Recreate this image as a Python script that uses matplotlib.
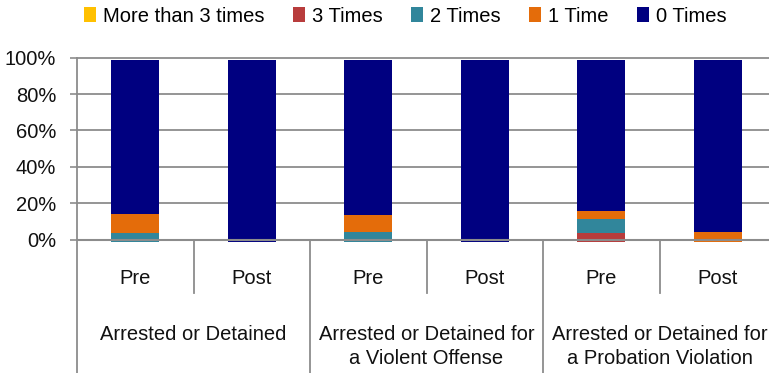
import numpy as np
import matplotlib
matplotlib.use('Agg')
import matplotlib.pyplot as plt
from matplotlib.transforms import blended_transform_factory

plt.rcParams['font.family'] = ['Liberation Sans', 'DejaVu Sans']

# survey results, share of youth by number of times (percent)
groups = ['Arrested or Detained',
          'Arrested or Detained for\na Violent Offense',
          'Arrested or Detained for\na Probation Violation']
periods = ['Pre', 'Post', 'Pre', 'Post', 'Pre', 'Post']

series_names = ['More than 3 times', '3 Times', '2 Times', '1 Time', '0 Times']
more_than_3 = [0, 0, 0, 0, 0, 0]
times_3 = [0, 0, 0, 0, 4.9, 0]
times_2 = [4.9, 0, 5.9, 0, 8.0, 0]
times_1 = [10.8, 0, 8.9, 0, 4.4, 5.9]
times_0 = [84.3, 100, 85.2, 100, 82.7, 94.1]

colors = ['#FFC000', '#B83C3C', '#31869B', '#E46C0A', '#000080']
grey = '#8C8C8C'
txt = '#111111'
fs = 14.5

# bars sit a little below the zero line, as in the exported chart
offset = -1.5

W, H = 769, 373
fig = plt.figure(figsize=(W / 100, H / 100), dpi=100)

y100, y0 = 57.7, 239.5           # pixel rows of 100% and 0%
px_per = (y0 - y100) / 100
ymin = -2
ax_bottom = y0 - ymin * px_per
left_px, right_px = 77, 776
ax = fig.add_axes([left_px / W, 1 - ax_bottom / H,
                   (right_px - left_px) / W, (ax_bottom - y100) / H])

x = np.arange(len(periods))
bottom = np.full(len(periods), offset, dtype=float)
handles = []
for name, vals, c in zip(series_names, [more_than_3, times_3, times_2, times_1, times_0], colors):
    vals = np.array(vals, dtype=float)
    b = ax.bar(x, vals, 0.41, bottom=bottom, color=c, label=name, zorder=2)
    handles.append(b)
    bottom += vals

ax.set_xlim(-0.5, len(periods) - 0.5)
ax.set_ylim(ymin, 100)
for s in ax.spines.values():
    s.set_visible(False)

yt = [0, 20, 40, 60, 80, 100]
ax.set_yticks(yt)
ax.set_yticklabels([f'{v}%' for v in yt], fontsize=fs, color=txt)
ax.tick_params(axis='y', length=5, width=1.2, color=grey, pad=10)
ax.set_xticks([])

for v in yt[1:]:
    ax.axhline(v, color=grey, lw=1.3, zorder=1, clip_on=False)
ax.axhline(0, color=grey, lw=1.5, zorder=3)

# category axis lines drawn below the plot area
tr = blended_transform_factory(ax.transData, fig.transFigure)
top_frac = 1 - y100 / H
zero_frac = 1 - y0 / H
for xv in [-0.5, 1.5, 3.5, 5.5]:
    fig.add_artist(plt.Line2D([xv, xv], [0, top_frac if xv == -0.5 else zero_frac],
                              transform=tr, color=grey, lw=1.3))
for xv in [0.5, 2.5, 4.5]:
    fig.add_artist(plt.Line2D([xv, xv], [zero_frac, 1 - 293 / H],
                              transform=tr, color=grey, lw=1.3))

for xi, p in zip(x, periods):
    ax.text(xi, 1 - 278 / H, p, transform=tr, ha='center', va='center',
            fontsize=fs, color=txt)

for i, g in enumerate(groups):
    ax.text(2 * i + 0.5, 1 - 325 / H, g, transform=tr, ha='center', va='top',
            fontsize=fs, color=txt, linespacing=1.3)

fig.legend(handles=handles, labels=series_names, loc='center left',
           bbox_to_anchor=(84 / W, 1 - 16 / H), ncol=5, frameon=False,
           fontsize=fs, handlelength=0.6, handleheight=0.7,
           handletextpad=0.35, columnspacing=1.4, borderpad=0,
           borderaxespad=0)

fig.savefig('out.png', dpi=100)
